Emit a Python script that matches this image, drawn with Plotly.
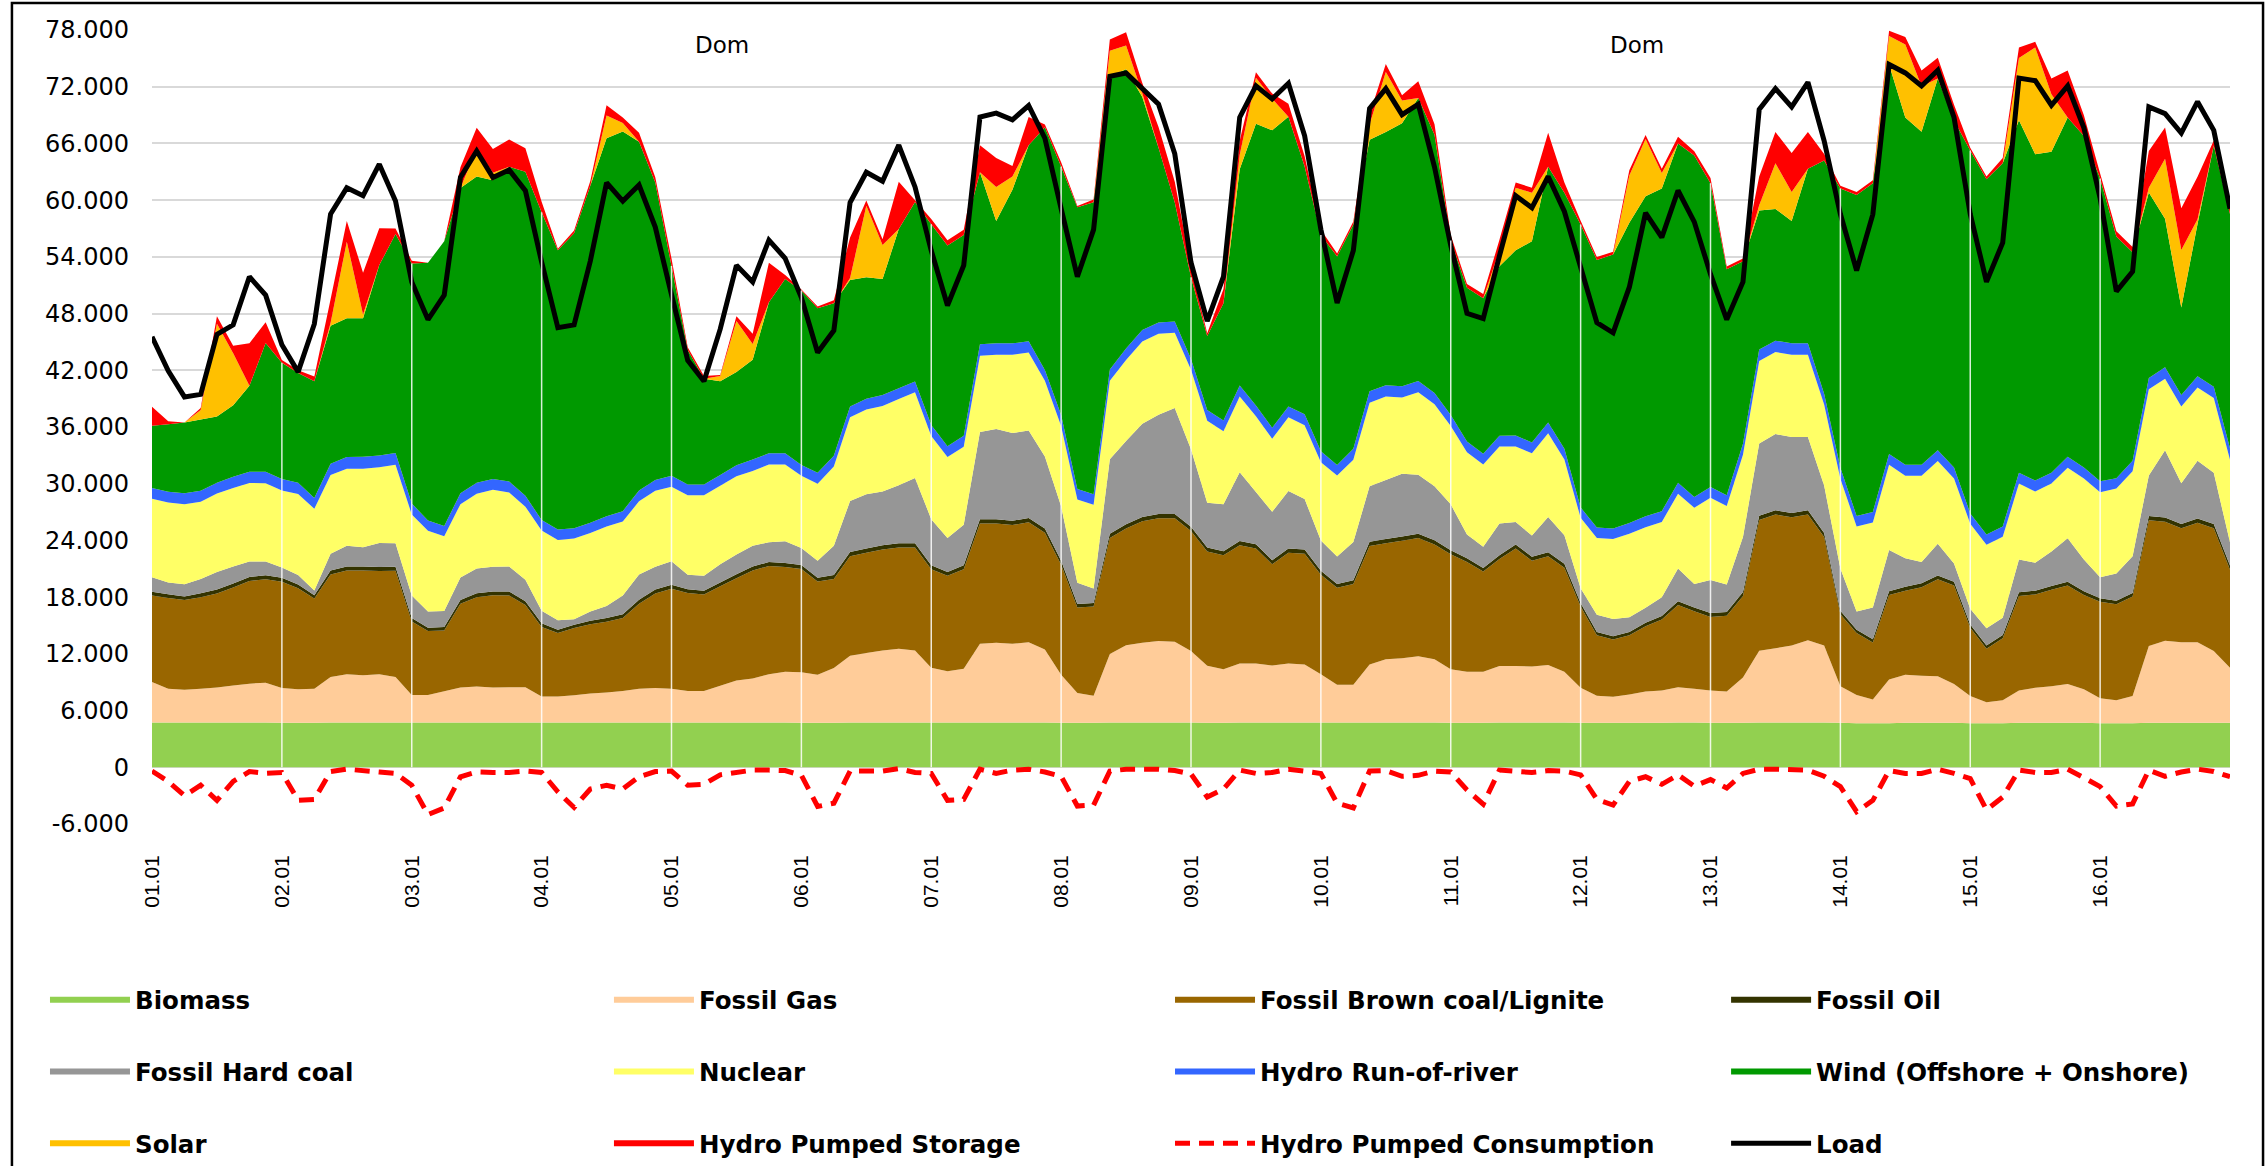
import pandas as pd
import plotly.graph_objects as go

# 3-hourly samples, 01.01.2020 00:00 ... 17.01.2020 00:00 (one row per day; last row ends with the closing value)
times = pd.date_range("2020-01-01 00:00", periods=129, freq="3h")
day_ticks = list(times[0:121:8])                     # 01.01 ... 16.01
day_labels = [t.strftime("%d.%m") for t in day_ticks]

biomass = [
    4750, 4750, 4750, 4750, 4750, 4750, 4750, 4750,
    4700, 4700, 4700, 4750, 4750, 4750, 4750, 4750,
    4750, 4750, 4750, 4750, 4750, 4750, 4750, 4750,
    4750, 4750, 4750, 4750, 4750, 4750, 4750, 4750,
    4750, 4750, 4750, 4750, 4750, 4750, 4750, 4750,
    4700, 4700, 4700, 4750, 4750, 4750, 4750, 4750,
    4750, 4750, 4750, 4750, 4750, 4750, 4750, 4750,
    4700, 4700, 4700, 4750, 4750, 4750, 4750, 4750,
    4750, 4700, 4700, 4750, 4750, 4750, 4750, 4750,
    4750, 4750, 4750, 4750, 4750, 4750, 4750, 4750,
    4700, 4700, 4700, 4750, 4750, 4750, 4750, 4750,
    4700, 4700, 4700, 4700, 4700, 4700, 4750, 4750,
    4700, 4700, 4700, 4750, 4750, 4750, 4750, 4750,
    4700, 4650, 4650, 4650, 4700, 4700, 4700, 4700,
    4650, 4650, 4650, 4700, 4700, 4700, 4700, 4700,
    4650, 4650, 4650, 4700, 4700, 4700, 4700, 4700, 4700,
]

fossil_gas = [
    4260, 3550, 3450, 3550, 3700, 3900, 4100, 4200,
    3700, 3550, 3600, 4800, 5100, 5000, 5100, 4800,
    2900, 2900, 3300, 3700, 3800, 3700, 3710, 3710,
    2750, 2750, 2880, 3050, 3150, 3320, 3550, 3650,
    3550, 3320, 3320, 3880, 4430, 4650, 5090, 5350,
    5350, 5090, 5800, 7060, 7340, 7610, 7780, 7610,
    5790, 5400, 5680, 8320, 8430, 8320, 8490, 7720,
    5090, 3150, 2880, 7230, 8170, 8430, 8600, 8540,
    7550, 6030, 5680, 6240, 6240, 6020, 6240, 6130,
    5090, 3990, 3990, 6130, 6670, 6780, 7000, 6670,
    5680, 5400, 5400, 5960, 5960, 5920, 6070, 5370,
    3710, 2880, 2770, 2990, 3320, 3430, 3710, 3550,
    3430, 3320, 4810, 7580, 7850, 8130, 8690, 8130,
    3880, 2990, 2520, 4650, 5090, 4980, 4920, 4100,
    2880, 2220, 2430, 3430, 3710, 3880, 4100, 3550,
    2660, 2440, 2880, 8130, 8690, 8520, 8520, 7610, 5840,
]

fossil_lignite = [
    9160, 9600, 9500, 9700, 9940, 10370, 10850, 10940,
    11240, 10700, 9550, 10840, 10960, 11070, 10910, 11240,
    7770, 6770, 6430, 8840, 9430, 9740, 9710, 8710,
    7350, 6700, 7110, 7330, 7500, 7730, 9000, 9980,
    10580, 10370, 10210, 10530, 10820, 11420, 11460, 11100,
    10940, 9860, 9410, 10510, 10610, 10680, 10730, 10900,
    10410, 10120, 10520, 12730, 12620, 12560, 12670, 12330,
    11640, 9050, 9430, 12270, 12330, 12840, 13000, 13060,
    12700, 12090, 12050, 12490, 12160, 10710, 11710, 11710,
    10540, 10260, 10640, 12540, 12270, 12440, 12500, 12160,
    12160, 11610, 10610, 11330, 12430, 11180, 11500, 10980,
    8600, 6380, 6050, 6270, 6890, 7500, 8710, 8210,
    7780, 8000, 8610, 13840, 14130, 13570, 13290, 11480,
    7600, 6560, 6030, 8930, 8880, 9370, 10260, 10420,
    7220, 5670, 6570, 9990, 9870, 10200, 10420, 9980,
    10200, 10150, 10540, 13300, 12580, 12080, 12640, 12990, 10360,
]

fossil_oil = [
    400, 400, 380, 400, 420, 420, 420, 420,
    400, 400, 350, 420, 420, 420, 420, 420,
    380, 350, 350, 400, 420, 420, 420, 400,
    380, 350, 350, 380, 400, 400, 420, 420,
    420, 400, 400, 400, 420, 420, 420, 420,
    400, 400, 420, 450, 450, 450, 450, 450,
    420, 400, 420, 450, 450, 450, 450, 450,
    420, 380, 380, 450, 450, 450, 450, 450,
    450, 420, 420, 450, 450, 420, 450, 450,
    420, 400, 400, 450, 450, 450, 450, 450,
    420, 400, 380, 400, 420, 420, 420, 420,
    380, 350, 350, 350, 380, 380, 400, 400,
    400, 400, 420, 450, 450, 450, 450, 420,
    380, 350, 350, 400, 420, 420, 420, 400,
    350, 350, 350, 400, 400, 400, 420, 400,
    380, 380, 380, 450, 450, 450, 450, 450, 450,
]

fossil_hard_coal = [
    1530, 1250, 1280, 1530, 1850, 1800, 1650, 1450,
    1100, 980, 500, 1790, 2220, 2050, 2540, 2490,
    2370, 1700, 1700, 2400, 2640, 2600, 2660, 2280,
    1330, 1000, 560, 970, 1260, 1970, 2680, 2420,
    2500, 1540, 1590, 1920, 2080, 2200, 2100, 2300,
    1810, 1800, 3110, 5400, 5740, 5680, 6120, 6900,
    4880, 3580, 4280, 9220, 9550, 9280, 9270, 7620,
    5760, 2250, 1530, 7890, 8830, 9880, 10500, 11210,
    8200, 4740, 4970, 7280, 5520, 5130, 6070, 5350,
    3190, 2910, 4060, 5850, 6240, 6630, 6240, 5690,
    4860, 2510, 2240, 3360, 2390, 2250, 3740, 3040,
    1540, 1820, 1820, 1550, 1590, 1980, 3470, 2470,
    3500, 2910, 5830, 7630, 8070, 8050, 7770, 5020,
    4470, 1930, 3350, 4370, 3030, 2260, 3360, 1940,
    1660, 1810, 1810, 3470, 2970, 3640, 4580, 3360,
    2220, 2870, 3870, 4300, 7120, 4310, 6120, 5410, 2450,
]

nuclear = [
    8300, 8450, 8470, 8170, 8300, 8300, 8300, 8300,
    8150, 8570, 8650, 8310, 8130, 8300, 8010, 8310,
    8580, 8550, 7900, 7750, 7910, 8150, 7830, 7720,
    8500, 8500, 8550, 8300, 8410, 7830, 7740, 8030,
    7890, 8400, 8510, 8300, 8300, 7910, 8200, 8100,
    7640, 8150, 8380, 8850, 8960, 9060, 9120, 9060,
    8800, 8570, 8270, 8080, 7850, 8290, 8240, 8020,
    8500, 8800, 8860, 8300, 8570, 8700, 8560, 7960,
    8400, 8680, 7730, 8020, 8010, 7740, 7800, 7800,
    8290, 8570, 8700, 8850, 8850, 8070, 8730, 8680,
    8290, 8700, 8700, 8130, 8000, 8700, 8850, 8000,
    7460, 8130, 8460, 8840, 8520, 7960, 7910, 8070,
    8700, 8300, 8700, 8740, 8680, 8700, 8700, 8570,
    9500, 9000, 9000, 9000, 8730, 9120, 8740, 9000,
    9000, 8840, 8570, 8020, 7530, 7190, 7470, 8570,
    9000, 9000, 9000, 9110, 7570, 8120, 7740, 7910, 8740,
]

hydro_run_of_river = [
    1150, 1150, 1150, 1150, 1150, 1200, 1200, 1200,
    1200, 1200, 1150, 1200, 1250, 1250, 1250, 1250,
    1150, 1100, 1100, 1150, 1150, 1150, 1150, 1150,
    1100, 1100, 1100, 1100, 1100, 1100, 1150, 1150,
    1150, 1150, 1150, 1150, 1150, 1200, 1200, 1200,
    1150, 1150, 1150, 1150, 1150, 1150, 1150, 1150,
    1150, 1150, 1150, 1200, 1200, 1200, 1200, 1150,
    1150, 1100, 1100, 1200, 1200, 1200, 1200, 1200,
    1150, 1150, 1150, 1150, 1150, 1150, 1150, 1150,
    1150, 1100, 1150, 1200, 1200, 1200, 1200, 1200,
    1150, 1150, 1150, 1150, 1150, 1150, 1150, 1150,
    1100, 1100, 1100, 1150, 1150, 1150, 1150, 1150,
    1150, 1150, 1150, 1200, 1200, 1200, 1200, 1150,
    1150, 1100, 1100, 1150, 1150, 1150, 1150, 1150,
    1100, 1100, 1100, 1150, 1150, 1150, 1150, 1150,
    1150, 1100, 1100, 1200, 1200, 1200, 1200, 1200, 1200,
]

wind = [
    6590, 7150, 7500, 7550, 7000, 7550, 9100, 13620,
    12300, 11600, 12350, 14600, 14670, 14670, 20150, 23150,
    25400, 27250, 30120, 32300, 32400, 31600, 33290, 34280,
    32570, 29550, 31200, 35650, 39980, 40150, 36880, 31470,
    22180, 14220, 11170, 9910, 9870, 10570, 15980, 18450,
    18460, 17400, 16130, 13380, 12850, 12270, 16850, 18980,
    21250, 21230, 21250, 18200, 12950, 16250, 20730, 25660,
    26310, 29810, 30900, 31010, 29550, 24650, 18490, 12570,
    8650, 7810, 12400, 22900, 29810, 31480, 30640, 26210,
    22890, 22070, 23740, 26630, 26770, 27820, 29930, 27330,
    18480, 16270, 16440, 17920, 19590, 21290, 27040, 27060,
    29930, 28320, 29000, 31750, 33850, 34130, 35900, 36130,
    32140, 23900, 19310, 14710, 13940, 12950, 18480, 24670,
    29550, 33970, 34800, 41210, 36730, 35240, 39320, 36740,
    38390, 37560, 38420, 37290, 34520, 33960, 35890, 35070,
    32020, 25560, 22080, 19610, 15720, 9250, 16110, 25500, 24790,
]

solar = [
    0, 0, 0, 1000, 9800, 5500, 0, 0,
    0, 0, 0, 300, 8100, 400, 0, 0,
    0, 0, 0, 0, 2950, 800, 0, 0,
    0, 0, 0, 0, 2400, 900, 0, 0,
    0, 0, 0, 550, 5400, 1650, 0, 0,
    0, 0, 0, 200, 7560, 3600, 0, 0,
    0, 0, 0, 0, 3600, 1400, 0, 0,
    0, 0, 0, 2700, 2500, 400, 0, 0,
    0, 0, 0, 1500, 4870, 3320, 0, 0,
    0, 0, 0, 1600, 6360, 2400, 0, 0,
    0, 0, 0, 1700, 6630, 5110, 0, 0,
    0, 0, 0, 5000, 6080, 1650, 0, 0,
    0, 0, 0, 560, 4830, 3050, 0, 0,
    0, 0, 0, 3000, 7740, 4810, 0, 0,
    0, 0, 0, 6600, 11300, 6080, 0, 0,
    0, 0, 0, 500, 6360, 6090, 500, 0, 0,
]

hydro_pumped_storage = [
    2000, 300, 0, 200, 800, 800, 4500, 2200,
    300, 300, 500, 2500, 2200, 4400, 3900, 600,
    300, 0, 0, 2200, 2200, 2500, 2900, 2500,
    1100, 150, 300, 500, 1100, 600, 950, 550,
    800, 300, 300, 100, 500, 1100, 4170, 400,
    100, 200, 300, 4300, 540, 600, 5000, 200,
    550, 550, 550, 2850, 3050, 1100, 3000, 300,
    450, 150, 300, 1200, 1400, 1100, 2200, 2200,
    1000, 300, 1500, 1500, 560, 550, 1400, 1100,
    550, 300, 300, 1100, 850, 550, 1770, 1100,
    550, 400, 450, 1100, 550, 550, 3600, 1100,
    400, 300, 300, 550, 400, 450, 700, 450,
    550, 300, 300, 3040, 3300, 4150, 3870, 700,
    300, 300, 300, 550, 800, 1660, 2200, 1650,
    300, 300, 550, 1100, 600, 1660, 4980, 2200,
    550, 550, 550, 3900, 3300, 4420, 4500, 550, 500,
]

hydro_pumped_consumption = [
    -400, -1500, -3000, -1900, -3500, -1500, -450, -650,
    -550, -3500, -3400, -450, -200, -300, -500, -650,
    -1900, -5000, -4300, -1000, -500, -550, -550, -400,
    -550, -2600, -4250, -2300, -1900, -2300, -1000, -450,
    -400, -1900, -1800, -800, -500, -300, -300, -350,
    -850, -4150, -3800, -400, -400, -400, -150, -550,
    -650, -3500, -3400, -200, -650, -300, -200, -500,
    -950, -4100, -4000, -400, -200, -200, -200, -350,
    -700, -3150, -2300, -300, -650, -550, -200, -400,
    -650, -3800, -4300, -400, -350, -950, -850, -400,
    -500, -2400, -3900, -300, -450, -550, -350, -400,
    -800, -3400, -4000, -1500, -1000, -1800, -800, -2000,
    -1300, -2200, -650, -200, -200, -200, -300, -950,
    -2050, -4700, -3500, -350, -650, -650, -200, -650,
    -1200, -4500, -3150, -300, -550, -550, -200, -1100,
    -2050, -4100, -3870, -300, -950, -500, -200, -450, -1000,
]

load = [
    45550, 41950, 39180, 39450, 45800, 46800, 51900, 49950,
    44700, 41830, 46900, 58530, 61300, 60470, 63800, 59900,
    51350, 47370, 49950, 62400, 65200, 62400, 63200, 61000,
    53450, 46500, 46800, 53560, 61850, 59900, 61600, 57150,
    50000, 43050, 40840, 46350, 53100, 51350, 55770, 53850,
    49700, 43880, 46200, 59750, 62950, 62000, 65830, 61400,
    54670, 48860, 53100, 68800, 69200, 68500, 70000, 66550,
    59100, 51900, 56880, 73100, 73450, 71800, 70150, 64900,
    53400, 47200, 51900, 68750, 72100, 70700, 72360, 66800,
    56900, 49130, 54670, 69700, 71800, 69040, 70150, 63500,
    55200, 48030, 47470, 54100, 60470, 59200, 62500, 58800,
    52900, 47030, 45970, 50790, 58650, 56050, 61020, 57700,
    52170, 47360, 51350, 69600, 71800, 69870, 72470, 66280,
    58530, 52560, 58500, 74350, 73460, 72080, 73740, 68750,
    58530, 51350, 55500, 72910, 72640, 70040, 72080, 67650,
    60200, 50350, 52450, 69870, 69150, 67100, 70420, 67380, 59100,
]

y_tick_values = [-6000, 0, 6000, 12000, 18000, 24000, 30000, 36000,
                 42000, 48000, 54000, 60000, 66000, 72000, 78000]
y_tick_labels = ["-6.000", "0", "6.000", "12.000", "18.000", "24.000", "30.000", "36.000",
                 "42.000", "48.000", "54.000", "60.000", "66.000", "72.000", "78.000"]

sunday_labels = ["Dom", "Dom"]
sunday_label_times = ["2020-01-05 09:25", "2020-01-12 10:25"]

# (name, values, colour, legend column)
stack_series = [
    ("Biomass", biomass, "#92D050", "legend"),
    ("Fossil Gas", fossil_gas, "#FFCC99", "legend2"),
    ("Fossil Brown coal/Lignite", fossil_lignite, "#996600", "legend3"),
    ("Fossil Oil", fossil_oil, "#333300", "legend4"),
    ("Fossil Hard coal", fossil_hard_coal, "#969696", "legend"),
    ("Nuclear", nuclear, "#FFFF66", "legend2"),
    ("Hydro Run-of-river", hydro_run_of_river, "#3366FF", "legend3"),
    ("Wind (Offshore + Onshore)", wind, "#009900", "legend4"),
    ("Solar", solar, "#FFC000", "legend"),
    ("Hydro Pumped Storage", hydro_pumped_storage, "#FF0000", "legend2"),
]

fig = go.Figure()
for k, (name, vals, color, lg) in enumerate(stack_series):
    fig.add_trace(go.Scatter(
        x=times, y=vals, name=name, stackgroup="gen", mode="none",
        fillcolor=color, line=dict(width=0), legend=lg, legendgroup=f"g{k}",
        hoverinfo="x+y+name",
    ))

fig.add_trace(go.Scatter(
    x=times, y=hydro_pumped_consumption, name="Hydro Pumped Consumption",
    mode="lines", line=dict(color="#FF0000", width=5, dash="15px,9px"),
    legend="legend3", legendgroup="g10",
))
fig.add_trace(go.Scatter(
    x=times, y=load, name="Load", mode="lines",
    line=dict(color="#000000", width=5), legend="legend4", legendgroup="g11",
))

# thin light gaps at each midnight (daily breaks in the data), up to the stacked total
shapes = []
for d in range(1, 16):
    i = 8 * d
    top = sum(s[1][i] for s in stack_series[:8])
    shapes.append(dict(type="line", xref="x", yref="y", x0=times[i], x1=times[i],
                       y0=0, y1=top, line=dict(color="rgba(255,255,255,0.85)", width=1.5),
                       layer="above"))
# outer chart frame
shapes.append(dict(type="rect", xref="paper", yref="paper", x0=-0.0674, x1=1.0159,
                   y0=-0.45, y1=1.034, line=dict(color="#000000", width=2.5),
                   fillcolor="rgba(0,0,0,0)", layer="above"))

annotations = [
    dict(x=t, y=76400, xref="x", yref="y", text=txt, showarrow=False,
         font=dict(family="DejaVu Sans, sans-serif", size=23, color="black"),
         xanchor="center", yanchor="middle")
    for t, txt in zip(sunday_label_times, sunday_labels)
]

legend_font = dict(family="DejaVu Sans, sans-serif", size=24.5, color="black", weight="bold")
legend_common = dict(orientation="v", xanchor="left", yanchor="top", y=-0.193,
                     font=legend_font, bgcolor="rgba(0,0,0,0)", traceorder="grouped",
                     tracegroupgap=37, itemwidth=80)

fig.update_layout(
    width=2266, height=1166,
    margin=dict(l=152, r=36, t=30, b=342, autoexpand=False),
    plot_bgcolor="white", paper_bgcolor="white",
    font=dict(family="Liberation Sans, Arial, sans-serif", color="black"),
    showlegend=True,
    legend=dict(legend_common, x=-0.0515),
    legend2=dict(legend_common, x=0.2199),
    legend3=dict(legend_common, x=0.4899),
    legend4=dict(legend_common, x=0.7575),
    shapes=shapes,
    annotations=annotations,
    xaxis=dict(
        type="date", range=[times[0], times[-1]],
        tickmode="array", tickvals=day_ticks, ticktext=day_labels,
        tickangle=-90, showgrid=False, zeroline=False, showline=False,
        tickfont=dict(family="Liberation Sans, Arial, sans-serif", size=21, color="black"),
        ticklabelstandoff=26, automargin=False,
    ),
    yaxis=dict(
        range=[-6000, 78000], tickmode="array", tickvals=y_tick_values, ticktext=y_tick_labels,
        showgrid=True, gridcolor="#D9D9D9", gridwidth=2, zeroline=True,
        zerolinecolor="#D9D9D9", zerolinewidth=2, showline=False,
        tickfont=dict(family="DejaVu Sans, sans-serif", size=24, color="black"),
        ticklabelstandoff=22, automargin=False,
    ),
)

fig.write_html("out.html", config={"displayModeBar": False},
               post_script="document.body.style.margin='0px';")
